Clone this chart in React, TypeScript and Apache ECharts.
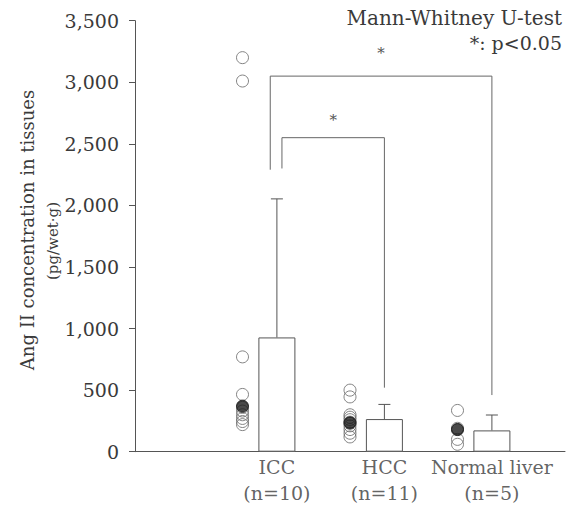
import React, { useEffect, useRef } from "react";
import * as echarts from "echarts";

const categories = ["ICC", "HCC", "Normal liver"];
const sampleSizes = [10, 11, 5];
const meanValues = [928, 265, 173];
const errorTops = [2053, 384, 298];
const medianValues = [370, 235, 180];
const iccPoints = [3200, 3010, 770, 465, 360, 330, 300, 270, 245, 220];
const hccPoints = [500, 445, 300, 280, 260, 240, 230, 210, 180, 150, 120];
const normalPoints = [335, 190, 180, 100, 60];
const groupPoints = [iccPoints, hccPoints, normalPoints];
const yTicks = [0, 500, 1000, 1500, 2000, 2500, 3000, 3500];
// significance brackets: [fromGroup, toGroup]
const bracketPairs = [
  [0, 2],
  [0, 1],
];
const bracketTops = [3050, 2550];
const bracketLeftEnds = [2290, 2300];
const bracketRightEnds = [460, 520];
const starHeights = [3240, 2690];

const FONT = "'DejaVu Serif', serif";
const TEXT = "#3a3a3a";
const LINE = "#555";

export default function App() {
  const ref = useRef<HTMLDivElement>(null);
  useEffect(() => {
    if (!ref.current) return;
    const chart = echarts.init(ref.current, null, { renderer: "svg" });
    const pos = (i: number) => i + 1.32;
    const ptOff = -0.32;
    const openData: number[][] = [];
    groupPoints.forEach((pts, i) => pts.forEach((v) => openData.push([pos(i) + ptOff, v])));
    const bracketLeftOff = [-0.062, 0.047];

    const option: any = {
      animation: false,
      grid: { left: 135, right: 2, top: 20.7, bottom: 58.3 },
      xAxis: {
        type: "value",
        min: 0,
        max: 4,
        axisLine: { show: true, lineStyle: { color: LINE, width: 1 } },
        axisTick: { show: false },
        axisLabel: { show: false },
        splitLine: { show: false },
      },
      yAxis: {
        type: "value",
        min: yTicks[0],
        max: yTicks[yTicks.length - 1],
        interval: yTicks[1] - yTicks[0],
        axisLine: { show: true, lineStyle: { color: LINE, width: 1 } },
        axisTick: { show: true, length: 6, inside: false, lineStyle: { color: LINE } },
        axisLabel: {
          margin: 16,
          color: TEXT,
          fontFamily: FONT,
          fontSize: 19,
          formatter: (v: number) => v.toLocaleString("en-US"),
        },
        splitLine: { show: false },
      },
      series: [
        {
          type: "bar",
          silent: true,
          barWidth: 37,
          data: meanValues.map((v, i) => [pos(i), v]),
          itemStyle: { color: "#fff", borderColor: LINE, borderWidth: 1 },
          z: 2,
        },
        {
          type: "custom",
          silent: true,
          z: 3,
          data: errorTops.map((t, i) => [pos(i), meanValues[i], t]),
          renderItem: (params: any, api: any) => {
            const x = api.value(0);
            const base = api.coord([x, api.value(1)]);
            const top = api.coord([x, api.value(2)]);
            const hw = 6;
            return {
              type: "group",
              children: [
                { type: "line", shape: { x1: base[0], y1: base[1], x2: top[0], y2: top[1] }, style: { stroke: LINE, lineWidth: 1 } },
                { type: "line", shape: { x1: top[0] - hw, y1: top[1], x2: top[0] + hw, y2: top[1] }, style: { stroke: LINE, lineWidth: 1 } },
              ],
            };
          },
        },
        {
          type: "scatter",
          silent: true,
          symbol: "circle",
          symbolSize: 12,
          data: openData,
          itemStyle: { color: "rgba(255,255,255,0)", borderColor: "#666", borderWidth: 1 },
          z: 4,
        },
        {
          type: "scatter",
          silent: true,
          symbol: "circle",
          symbolSize: 12,
          data: medianValues.map((v, i) => [pos(i) + ptOff, v]),
          itemStyle: { color: "#1b1b1b", borderColor: "#1b1b1b", borderWidth: 1 },
          z: 5,
        },
        {
          type: "custom",
          silent: true,
          z: 3,
          data: bracketPairs.map((p, k) => [
            pos(p[0]) + bracketLeftOff[k],
            pos(p[1]),
            bracketTops[k],
            bracketLeftEnds[k],
            bracketRightEnds[k],
            starHeights[k],
          ]),
          renderItem: (params: any, api: any) => {
            const xl = api.value(0);
            const xr = api.value(1);
            const tl = api.coord([xl, api.value(2)]);
            const tr = api.coord([xr, api.value(2)]);
            const bl = api.coord([xl, api.value(3)]);
            const br = api.coord([xr, api.value(4)]);
            const st = api.coord([(xl + xr) / 2, api.value(5)]);
            const style = { stroke: "#666", lineWidth: 1, fill: "none" };
            return {
              type: "group",
              children: [
                { type: "polyline", shape: { points: [bl, tl, tr, br] }, style },
                {
                  type: "text",
                  x: st[0],
                  y: st[1],
                  style: { text: "*", fill: "#555", font: `15px ${FONT}`, textAlign: "center", textVerticalAlign: "middle" },
                },
              ],
            };
          },
        },
        {
          type: "scatter",
          silent: true,
          symbolSize: 0,
          clip: false,
          data: categories.map((c, i) => [pos(i), 0, c, sampleSizes[i]]),
          label: {
            show: true,
            position: "bottom",
            distance: 2,
            align: "center",
            color: TEXT,
            fontFamily: FONT,
            fontSize: 19,
            lineHeight: 26,
            formatter: (p: any) => `${p.value[2]}\n(n=${p.value[3]})`,
          },
        },
      ],
      graphic: [
        {
          type: "text",
          x: 27,
          y: 230,
          rotation: Math.PI / 2,
          style: { text: "Ang II concentration in tissues", fill: TEXT, font: `18px ${FONT}`, textAlign: "center", textVerticalAlign: "middle" },
        },
        {
          type: "text",
          x: 53,
          y: 241,
          rotation: Math.PI / 2,
          style: { text: "(pg/wet·g)", fill: TEXT, font: `15px ${FONT}`, textAlign: "center", textVerticalAlign: "middle" },
        },
        {
          type: "text",
          x: 562,
          y: 18,
          style: { text: "Mann-Whitney U-test", fill: TEXT, font: `20px ${FONT}`, textAlign: "right", textVerticalAlign: "middle" },
        },
        {
          type: "text",
          x: 562,
          y: 43,
          style: { text: "*: p<0.05", fill: TEXT, font: `19px ${FONT}`, textAlign: "right", textVerticalAlign: "middle" },
        },
      ],
    };
    chart.setOption(option);
    return () => chart.dispose();
  }, []);
  return <div ref={ref} style={{ width: 567, height: 510, position: "absolute", left: 0, top: 0 }} />;
}
